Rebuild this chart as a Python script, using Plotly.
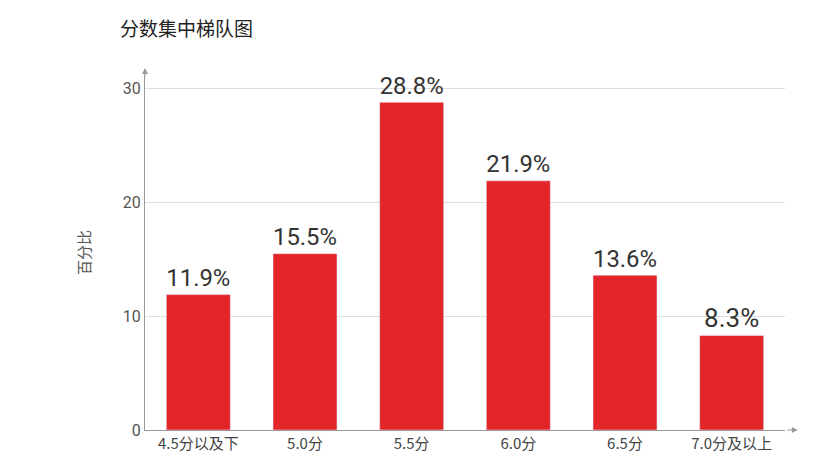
import plotly.graph_objects as go

categories = ["4.5分以及下", "5.0分", "5.5分", "6.0分", "6.5分", "7.0分及以上"]
percent = [11.9, 15.5, 28.8, 21.9, 13.6, 8.3]
labels = ["%.1f%%" % v for v in percent]

FONT = "Noto Sans CJK SC"

fig = go.Figure(go.Bar(
    x=categories, y=percent, text=labels, textposition="outside",
    textfont=dict(size=26, color="#333333", family="Roboto"),
    marker=dict(color="#e3262a"), cliponaxis=False,
))
fig.update_layout(
    width=836, height=475, bargap=0.4, showlegend=False,
    plot_bgcolor="white", paper_bgcolor="white",
    margin=dict(l=137, r=59, t=67, b=53),
    font=dict(family=FONT, color="#555555"),
    title=dict(text="分数集中梯队图", x=112 / 836, xanchor="left", y=0.955, yanchor="middle",
               font=dict(size=19, color="#222222", family=FONT)),
)
fig.update_yaxes(range=[0, 31.2], tickvals=[0, 10, 20, 30], showgrid=True,
                 gridcolor="#dddddd", showline=True, linecolor="#999999",
                 tickfont=dict(size=16, color="#555555", family="Roboto"), zeroline=False,
                 title=dict(text="百分比", font=dict(size=15, color="#555555"), standoff=28))
fig.update_xaxes(showline=True, linecolor="#999999", tickfont=dict(size=15, color="#444444"))

# arrow heads on axes
fig.add_annotation(x=0, y=1.02, xref="paper", yref="paper", ax=0, ay=10,
                   showarrow=True, arrowhead=2, arrowsize=1.2, arrowcolor="#999999", text="")
fig.add_annotation(x=1.02, y=0, xref="paper", yref="paper", ax=-12, ay=0,
                   showarrow=True, arrowhead=2, arrowsize=1.2, arrowcolor="#999999", text="")

fig.write_html("out.html")
